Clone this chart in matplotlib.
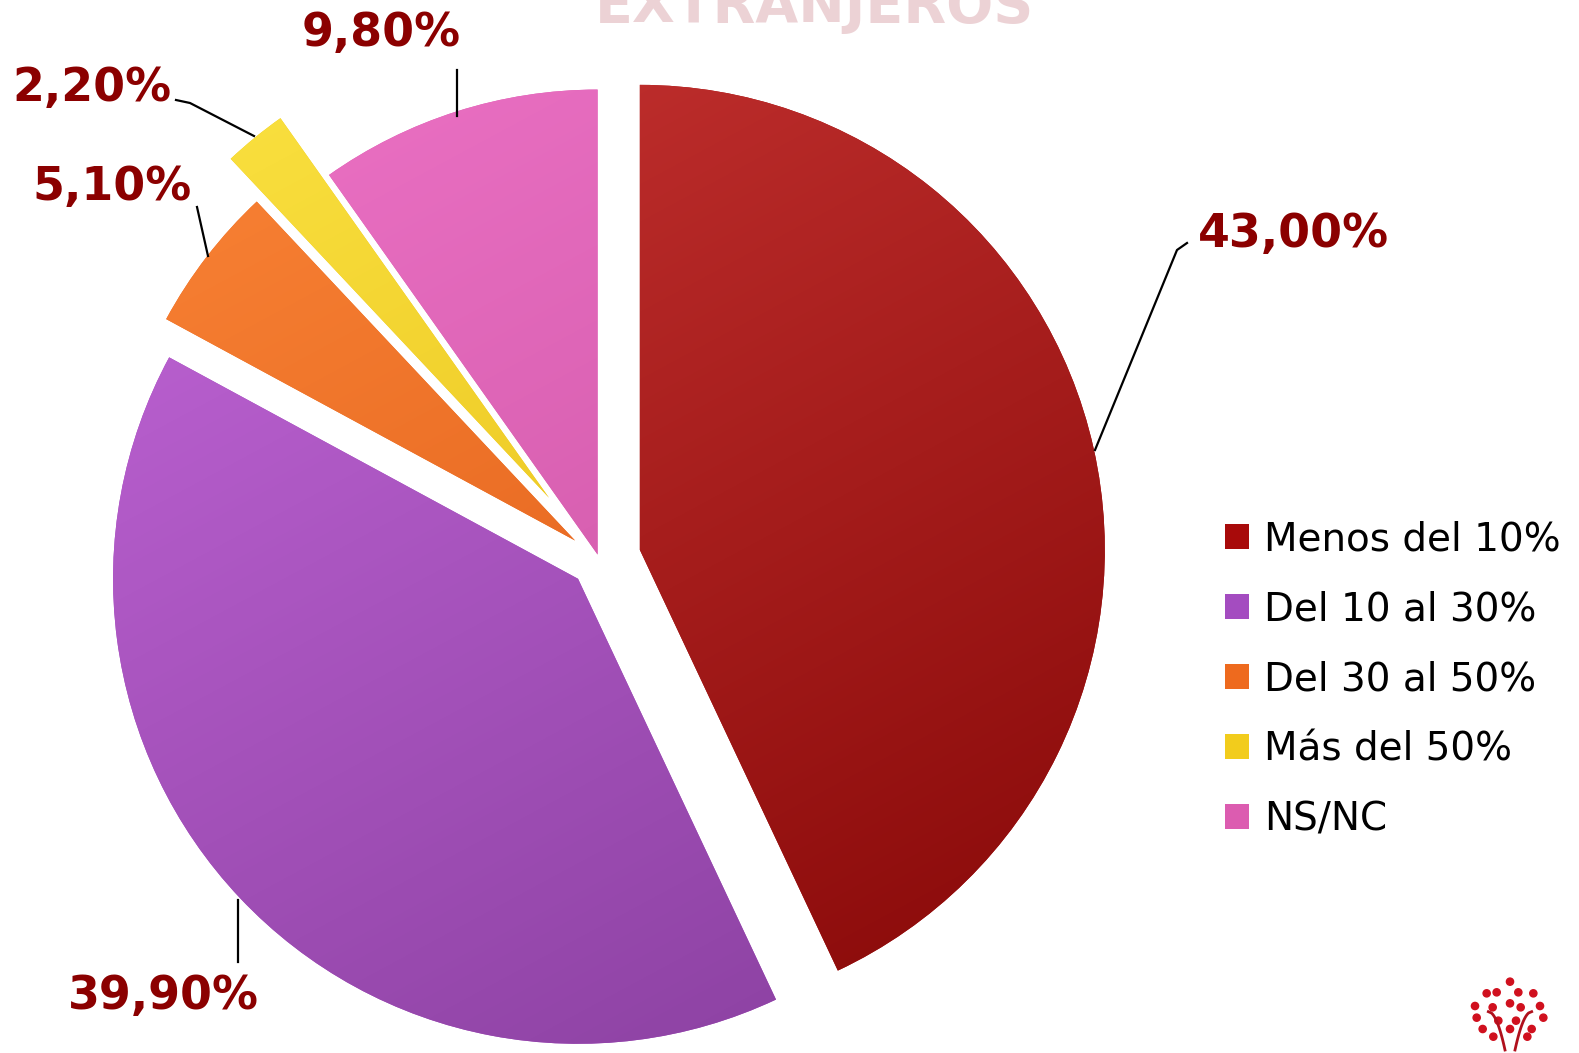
import numpy as np
import matplotlib
matplotlib.use('Agg')
import matplotlib.pyplot as plt
from matplotlib.colors import LinearSegmentedColormap
from matplotlib.patches import Circle

# Data
categories = ['Menos del 10%', 'Del 10 al 30%', 'Del 30 al 50%', 'Más del 50%', 'NS/NC']
values = [43.0, 39.9, 5.1, 2.2, 9.8]
value_labels = ['43,00%', '39,90%', '5,10%', '2,20%', '9,80%']
explode = [0.09, 0.062, 0.065, 0.17, 0.01]

# light / dark tones used for the shading of each slice
light_colors = ['#d23c3a', '#cc6ce2', '#ff8c3c', '#ffea4a', '#f478cc']
dark_colors = ['#7c0000', '#7e3894', '#d44c0c', '#dcaa00', '#bc4896']
mid_colors = ['#a80a0a', '#a44cc0', '#ee6a1e', '#f2cc1c', '#dc5cb0']

W, H = 1579, 1053
cx, cy, R = 599, 559, 465  # pie centre and radius in pixels

fig = plt.figure(figsize=(W / 100, H / 100), dpi=100)
ax = fig.add_axes([0, 0, 1, 1])

wedges, _ = ax.pie(values, startangle=90, counterclock=False, explode=explode,
                   colors=mid_colors, wedgeprops=dict(linewidth=0))

# gradient shading clipped to each slice
yy, xx = np.mgrid[0:1:200j, 0:1:200j]
grad = 0.65 * yy + 0.35 * xx
for w, lc, dc in zip(wedges, light_colors, dark_colors):
    cmap = LinearSegmentedColormap.from_list('s', [lc, dc])
    im = ax.imshow(grad, cmap=cmap, extent=(-1.35, 1.35, -1.35, 1.35),
                   origin='upper', interpolation='bicubic', zorder=w.get_zorder() + 0.1)
    im.set_clip_path(w)


def px(x, y):
    """pixel position -> data coordinates"""
    return (x - cx) / R, (cy - y) / R


ax.set_xlim(-cx / R, (W - cx) / R)
ax.set_ylim((cy - H) / R, cy / R)
ax.set_aspect('auto')
ax.axis('off')

# value labels with leader lines
label_pos = [(1293, 234), (163, 997), (112, 187), (92, 88), (381, 33)]
leaders = [
    [(1187, 243), (1177, 250), (1095, 450)],
    [(238, 962), (238, 900)],
    [(197, 207), (208, 256)],
    [(176, 100), (190, 103), (254, 136)],
    [(457, 70), (457, 116)],
]
for lab, pos, line in zip(value_labels, label_pos, leaders):
    x, y = px(*pos)
    ax.text(x, y, lab, ha='center', va='center', fontsize=33, fontweight='heavy',
            color='#8b0000', zorder=10)
    pts = np.array([px(*p) for p in line])
    ax.plot(pts[:, 0], pts[:, 1], color='black', lw=1.6, zorder=9)

# faded title cut off at the top edge (as in the original slide)
tx, ty = px(815, 22)
ax.text(tx, ty, 'EXTRANJEROS', ha='center', va='baseline', fontsize=40,
        fontweight='bold', color='#e6c4c8', alpha=0.75, zorder=1)

# legend
leg = ax.legend(wedges, categories, loc='upper left',
                bbox_to_anchor=(1206 / W, 1 - 501 / H), frameon=False,
                fontsize=28, handlelength=0.6, handleheight=0.6,
                handletextpad=0.4, labelspacing=0.82, borderpad=0)

# small tree logo, bottom right
logo_dots = [(210, 95), (140, 130), (170, 127), (235, 127), (280, 130), (105, 168),
             (158, 172), (210, 160), (242, 172), (300, 168), (110, 203), (175, 212),
             (228, 212), (310, 203), (128, 237), (210, 237), (275, 237), (160, 260),
             (262, 260)]
for dx, dy in logo_dots:
    x, y = px(1440 + dx / 3, 950 + dy / 3)
    ax.add_patch(Circle((x, y), 3.6 / R, color='#d0101e', zorder=5))
t = np.linspace(0, 1, 30)
for sx, ex in [(145, 195), (275, 225)]:
    xs = sx + (ex - sx) * np.sqrt(t)
    ys = 185 + (300 - 185) * t
    pts = np.array([px(1440 + a / 3, 950 + b / 3) for a, b in zip(xs, ys)])
    ax.plot(pts[:, 0], pts[:, 1], color='#b0101c', lw=2.0, zorder=5)

fig.savefig('out.png', dpi=100)
